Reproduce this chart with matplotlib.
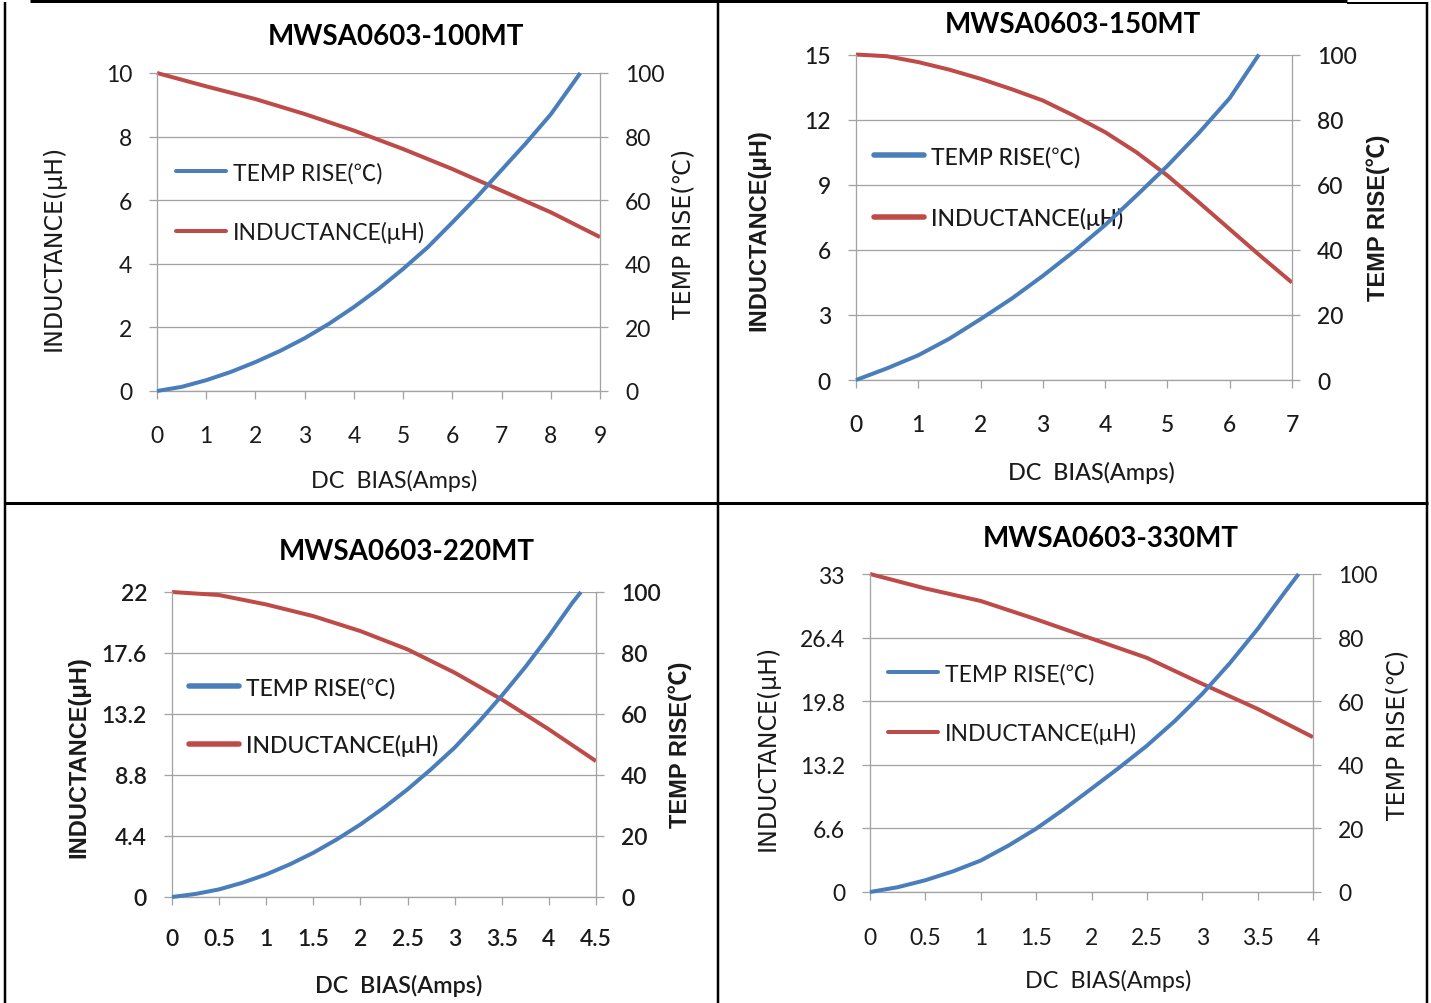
import matplotlib
matplotlib.use('Agg')
import matplotlib.pyplot as plt
from matplotlib.lines import Line2D

W, H = 1431, 1004
DPI = 100
PX = 72.0 / DPI  # points per pixel

BLUE = '#4A7EBB'
RED = '#BE4B48'
GRID = '#A3A3A3'

FONT = ['Lato', 'Noto Sans CJK SC', 'DejaVu Sans']
YFONT = ['DejaVu Sans', 'Noto Sans CJK SC']
YFONT_B = ['Liberation Sans', 'Noto Sans CJK SC', 'DejaVu Sans']
plt.rcParams['font.family'] = FONT

# ---------------- data ----------------
titles = ['MWSA0603-100MT', 'MWSA0603-150MT', 'MWSA0603-220MT', 'MWSA0603-330MT']
x_label = 'DC  BIAS(Amps)'
y_label_left = 'INDUCTANCE(μH)'
y_label_right = 'TEMP RISE(℃)'
legend_labels = ['TEMP RISE(℃)', 'INDUCTANCE(μH)']

# panel 1 : MWSA0603-100MT
p1_xticks = [0, 1, 2, 3, 4, 5, 6, 7, 8, 9]
p1_yticks = [0, 2, 4, 6, 8, 10]
p1_ytick_labels = ['0', '2', '4', '6', '8', '10']
p1_temp_x = [0, 0.5, 1, 1.5, 2, 2.5, 3, 3.5, 4, 4.5, 5, 5.5, 6, 6.5, 7, 7.5, 8, 8.6]
p1_temp_y = [0, 1.3, 3.4, 6.0, 9.1, 12.6, 16.6, 21.2, 26.4, 32.1, 38.4, 45.2, 53, 61, 69.5, 78, 87, 100]
p1_ind_x = [0, 1, 2, 3, 4, 5, 6, 7, 8, 9]
p1_ind_y = [10, 9.58, 9.18, 8.71, 8.19, 7.61, 6.98, 6.3, 5.62, 4.84]

# panel 2 : MWSA0603-150MT
p2_xticks = [0, 1, 2, 3, 4, 5, 6, 7]
p2_yticks = [0, 3, 6, 9, 12, 15]
p2_ytick_labels = ['0', '3', '6', '9', '12', '15']
p2_temp_x = [0, 0.5, 1, 1.5, 2, 2.5, 3, 3.5, 4, 4.5, 5, 5.5, 6, 6.47]
p2_temp_y = [0, 3.6, 7.6, 12.7, 18.7, 25, 32, 39.5, 47.6, 56.6, 65.8, 75.8, 86.6, 100]
p2_ind_x = [0, 0.5, 1, 1.5, 2, 2.5, 3, 3.5, 4, 4.5, 5, 5.5, 6, 6.5, 7]
p2_ind_y = [15, 14.92, 14.65, 14.3, 13.88, 13.4, 12.88, 12.18, 11.42, 10.5, 9.42, 8.2, 6.95, 5.7, 4.49]

# panel 3 : MWSA0603-220MT
p3_xticks = [0, 0.5, 1, 1.5, 2, 2.5, 3, 3.5, 4, 4.5]
p3_xtick_labels = ['0', '0.5', '1', '1.5', '2', '2.5', '3', '3.5', '4', '4.5']
p3_yticks = [0, 4.4, 8.8, 13.2, 17.6, 22]
p3_ytick_labels = ['0', '4.4', '8.8', '13.2', '17.6', '22']
p3_temp_x = [0, 0.25, 0.5, 0.75, 1, 1.25, 1.5, 1.75, 2, 2.25, 2.5, 2.75, 3, 3.25, 3.5, 3.75, 4, 4.25, 4.34]
p3_temp_y = [0, 1.0, 2.5, 4.7, 7.4, 10.7, 14.5, 18.9, 23.8, 29.3, 35.3, 41.9, 49, 57.2, 66, 75.4, 85.6, 96.5, 100]
p3_ind_x = [0, 0.5, 1, 1.5, 2, 2.5, 3, 3.5, 4, 4.5]
p3_ind_y = [22, 21.78, 21.1, 20.26, 19.18, 17.86, 16.18, 14.25, 12.09, 9.8]

# panel 4 : MWSA0603-330MT
p4_xticks = [0, 0.5, 1, 1.5, 2, 2.5, 3, 3.5, 4]
p4_xtick_labels = ['0', '0.5', '1', '1.5', '2', '2.5', '3', '3.5', '4']
p4_yticks = [0, 6.6, 13.2, 19.8, 26.4, 33]
p4_ytick_labels = ['0', '6.6', '13.2', '19.8', '26.4', '33']
p4_temp_x = [0, 0.25, 0.5, 0.75, 1, 1.25, 1.5, 1.75, 2, 2.25, 2.5, 2.75, 3, 3.25, 3.5, 3.75, 3.87]
p4_temp_y = [0, 1.5, 3.7, 6.5, 9.9, 14.6, 19.9, 26.0, 32.5, 39.1, 46, 53.7, 62.3, 72.0, 82.7, 94.5, 100]
p4_ind_x = [0, 0.5, 1, 1.5, 2, 2.5, 3, 3.5, 4]
p4_ind_y = [33, 31.5, 30.2, 28.3, 26.3, 24.3, 21.6, 19.0, 16.07]

temp_ticks = [0, 20, 40, 60, 80, 100]

panels = [
    dict(title=titles[0], xticks=p1_xticks, xlabels=[str(v) for v in p1_xticks],
         yticks=p1_yticks, ylabels=p1_ytick_labels,
         tx=p1_temp_x, ty=p1_temp_y, ix=p1_ind_x, iy=p1_ind_y),
    dict(title=titles[1], xticks=p2_xticks, xlabels=[str(v) for v in p2_xticks],
         yticks=p2_yticks, ylabels=p2_ytick_labels,
         tx=p2_temp_x, ty=p2_temp_y, ix=p2_ind_x, iy=p2_ind_y),
    dict(title=titles[2], xticks=p3_xticks, xlabels=p3_xtick_labels,
         yticks=p3_yticks, ylabels=p3_ytick_labels,
         tx=p3_temp_x, ty=p3_temp_y, ix=p3_ind_x, iy=p3_ind_y),
    dict(title=titles[3], xticks=p4_xticks, xlabels=p4_xtick_labels,
         yticks=p4_yticks, ylabels=p4_ytick_labels,
         tx=p4_temp_x, ty=p4_temp_y, ix=p4_ind_x, iy=p4_ind_y),
]

# ---------------- layout (pixels) ----------------
layout = [
    dict(box=(157, 74, 600, 392), title=(396, 45), xl=(394, 488), xpad=26,
         yl=(61, 248), yr=(690, 234), leg=(176, 203.5), legsp=60, bold=False,
         tickw='normal', legw='normal', titlew='bold', hw=4),
    dict(box=(856, 55.5, 1292, 381), title=(1073, 33), xl=(1091, 480), xpad=26,
         yl=(765, 230), yr=(1385, 218), leg=(874, 188.5), legsp=62, bold=True,
         tickw='medium', legw='medium', titlew='bold', hw=5.5),
    dict(box=(172, 593, 596, 898), title=(407, 560), xl=(399, 993), xpad=23,
         yl=(85, 757), yr=(687, 745), leg=(189, 717.5), legsp=58, bold=True,
         tickw='semibold', legw='medium', titlew='bold', hw=5.5),
    dict(box=(870, 575, 1313, 893), title=(1111, 547), xl=(1108, 988), xpad=27,
         yl=(775, 748), yr=(1405, 735), leg=(888, 704.5), legsp=60, bold=False,
         tickw='normal', legw='normal', titlew='bold', hw=4),
]

def fx(x):
    return x / W

def fy(y):
    return 1 - y / H

fig = plt.figure(figsize=(W / DPI, H / DPI), dpi=DPI)
fig.patch.set_facecolor('white')

FS = 16.5
TICKLEN = 8 * PX

for p, L in zip(panels, layout):
    x0, y0, x1, y1 = L['box']
    ax = fig.add_axes([fx(x0), fy(y1), (x1 - x0) / W, (y1 - y0) / H])
    ax.set_facecolor('none')
    ax.set_xlim(p['xticks'][0], p['xticks'][-1])
    ax.set_ylim(p['yticks'][0], p['yticks'][-1])
    ax.set_xticks(p['xticks'], p['xlabels'])
    ax.set_yticks(p['yticks'], p['ylabels'])
    ax.grid(axis='y', color=GRID, lw=1.3 * PX)
    ax.set_axisbelow(True)
    for s in ['top', 'right']:
        ax.spines[s].set_visible(False)
    for s in ['left', 'bottom']:
        ax.spines[s].set_color(GRID)
        ax.spines[s].set_linewidth(1.3 * PX)
    ax.tick_params(axis='both', direction='out', length=TICKLEN, width=1.3 * PX,
                   color=GRID, labelsize=FS, labelcolor='#1a1a1a')
    ax.tick_params(axis='y', pad=17 * PX)
    ax.tick_params(axis='x', pad=L['xpad'] * PX)
    for t in ax.get_xticklabels() + ax.get_yticklabels():
        t.set_fontweight(L['tickw'])

    ax2 = ax.twinx()
    ax2.set_ylim(0, 100)
    ax2.set_yticks(temp_ticks, [str(v) for v in temp_ticks])
    for s in ['top', 'left', 'bottom']:
        ax2.spines[s].set_visible(False)
    ax2.spines['right'].set_color(GRID)
    ax2.spines['right'].set_linewidth(1.3 * PX)
    ax2.tick_params(axis='y', direction='out', length=TICKLEN, width=1.3 * PX,
                    color=GRID, labelsize=FS, labelcolor='#1a1a1a', pad=17 * PX)
    for t in ax2.get_yticklabels():
        t.set_fontweight(L['tickw'])

    l_ind, = ax.plot(p['ix'], p['iy'], color=RED, lw=4 * PX, solid_capstyle='butt',
                     solid_joinstyle='round', clip_on=False)
    l_tmp, = ax2.plot(p['tx'], p['ty'], color=BLUE, lw=4 * PX, solid_capstyle='butt',
                      solid_joinstyle='round', clip_on=False)

    # legend (drawn on the primary axes so the temperature line passes over it)
    fs_px = FS / PX
    h_tmp = Line2D([], [], color=BLUE, lw=L['hw'] * PX, solid_capstyle='round')
    h_ind = Line2D([], [], color=RED, lw=L['hw'] * PX, solid_capstyle='round')
    leg = ax.legend([h_tmp, h_ind], legend_labels, loc='center left',
                    bbox_to_anchor=(fx(L['leg'][0]), fy(L['leg'][1])),
                    bbox_transform=fig.transFigure, frameon=False,
                    handlelength=50 / fs_px, handletextpad=7 / fs_px,
                    labelspacing=(L['legsp'] - 22) / fs_px, borderpad=0,
                    borderaxespad=0,
                    prop=dict(family=FONT, size=FS, weight=L['legw']))
    for t in leg.get_texts():
        t.set_color('#1a1a1a')

    # title
    fig.text(fx(L['title'][0]), fy(L['title'][1]), p['title'], ha='center',
             va='baseline', fontsize=20, fontweight=L['titlew'], color='black')
    # x label
    fig.text(fx(L['xl'][0]), fy(L['xl'][1]), x_label, ha='center', va='baseline',
             fontsize=16.8, fontweight=L['tickw'], color='#1a1a1a')
    # y labels
    if L['bold']:
        yfam, ysz, yw = YFONT_B, 17, 'bold'
    else:
        yfam, ysz, yw = YFONT, 17, 'normal'
    fig.text(fx(L['yl'][0]), fy(L['yl'][1]), y_label_left, rotation=90,
             rotation_mode='anchor', ha='center', va='baseline', fontsize=ysz,
             fontweight=yw, family=yfam, color='#1a1a1a')
    fig.text(fx(L['yr'][0]), fy(L['yr'][1]), y_label_right, rotation=90,
             rotation_mode='anchor', ha='center', va='baseline', fontsize=ysz,
             fontweight=yw, family=yfam, color='#1a1a1a')


# table borders
def hline(x_a, x_b, y, lw=3.0):
    fig.add_artist(Line2D([fx(x_a), fx(x_b)], [fy(y), fy(y)], color='black',
                          lw=lw * PX, transform=fig.transFigure, solid_capstyle='butt'))


def vline(x, y_a, y_b, lw=3.0):
    fig.add_artist(Line2D([fx(x), fx(x)], [fy(y_a), fy(y_b)], color='black',
                          lw=lw * PX, transform=fig.transFigure, solid_capstyle='butt'))


hline(30, 1347, 1.5, 3)
hline(1347, 1427.5, 3.5, 2)
hline(4, 1427.5, 504, 3)
vline(5, 3, 1004, 2.5)
vline(718, 1.5, 1004, 2.5)
vline(1426.5, 3, 1004, 2.5)

fig.savefig('out.png', dpi=DPI, facecolor='white')
